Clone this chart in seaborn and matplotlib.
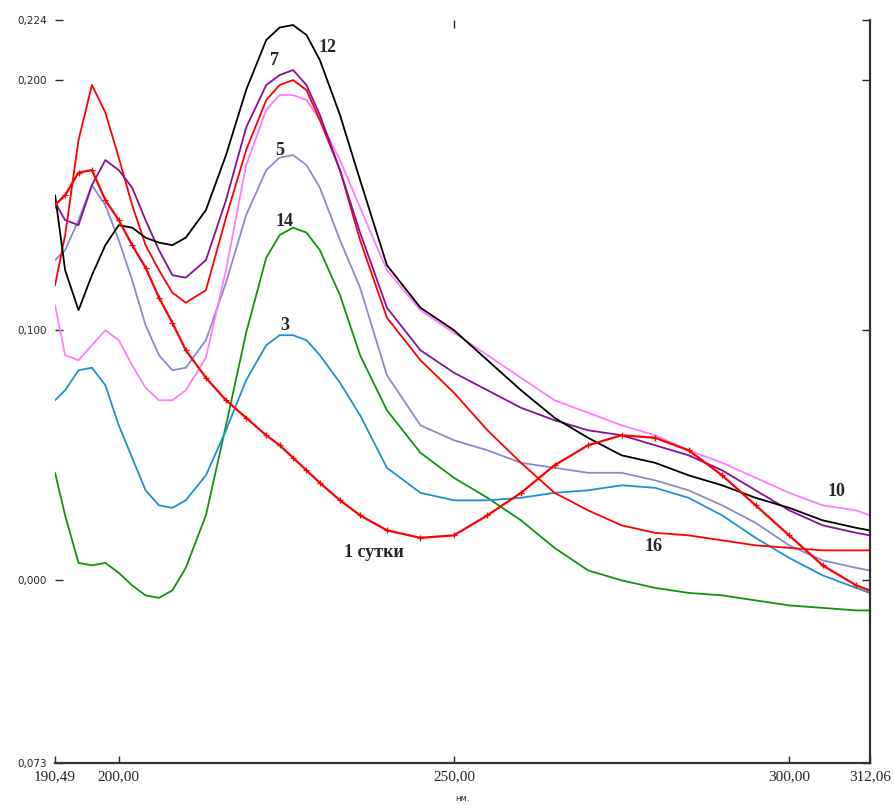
import numpy as np
import pandas as pd
import seaborn as sns
import matplotlib.pyplot as plt

# wavelength grid, nm
wavelength = [190.5, 192, 194, 196, 198, 200, 202, 204, 206, 208, 210, 213, 216, 219, 222, 224,
              226, 228, 230, 233, 236, 240, 245, 250, 255, 260, 265, 270, 275, 280, 285, 290,
              295, 300, 305, 310, 312]

# absorbance
abs_12 = [0.154, 0.124, 0.108, 0.122, 0.134, 0.142, 0.141, 0.137, 0.135, 0.134, 0.137, 0.148, 0.170,
          0.196, 0.216, 0.221, 0.222, 0.218, 0.208, 0.186, 0.160, 0.126, 0.109, 0.100, 0.088, 0.076,
          0.065, 0.057, 0.050, 0.047, 0.042, 0.038, 0.033, 0.029, 0.024, 0.021, 0.020]
abs_7 = [0.151, 0.144, 0.142, 0.158, 0.168, 0.164, 0.157, 0.144, 0.132, 0.122, 0.121, 0.128, 0.152,
         0.181, 0.198, 0.202, 0.204, 0.198, 0.186, 0.164, 0.139, 0.109, 0.092, 0.083, 0.076, 0.069,
         0.064, 0.060, 0.058, 0.054, 0.050, 0.044, 0.036, 0.028, 0.022, 0.019, 0.018]
abs_16 = [0.118, 0.138, 0.176, 0.198, 0.187, 0.169, 0.150, 0.134, 0.124, 0.115, 0.111, 0.116, 0.145,
          0.172, 0.192, 0.198, 0.200, 0.196, 0.184, 0.164, 0.136, 0.105, 0.088, 0.075, 0.060, 0.047,
          0.035, 0.028, 0.022, 0.019, 0.018, 0.016, 0.014, 0.013, 0.012, 0.012, 0.012]
abs_10 = [0.110, 0.090, 0.088, 0.094, 0.100, 0.096, 0.086, 0.077, 0.072, 0.072, 0.076, 0.089, 0.124,
          0.166, 0.188, 0.194, 0.194, 0.192, 0.184, 0.168, 0.149, 0.124, 0.108, 0.099, 0.090, 0.081,
          0.072, 0.067, 0.062, 0.058, 0.052, 0.047, 0.041, 0.035, 0.030, 0.028, 0.026]
abs_5 = [0.128, 0.132, 0.144, 0.158, 0.150, 0.136, 0.120, 0.102, 0.090, 0.084, 0.085, 0.096, 0.119,
         0.146, 0.164, 0.169, 0.170, 0.166, 0.157, 0.136, 0.117, 0.082, 0.062, 0.056, 0.052, 0.047,
         0.045, 0.043, 0.043, 0.040, 0.036, 0.030, 0.023, 0.014, 0.008, 0.005, 0.004]
abs_3 = [0.072, 0.076, 0.084, 0.085, 0.078, 0.062, 0.049, 0.036, 0.030, 0.029, 0.032, 0.042, 0.060,
         0.080, 0.094, 0.098, 0.098, 0.096, 0.090, 0.079, 0.066, 0.045, 0.035, 0.032, 0.032, 0.033,
         0.035, 0.036, 0.038, 0.037, 0.033, 0.026, 0.017, 0.009, 0.002, -0.003, -0.005]
abs_14 = [0.043, 0.026, 0.007, 0.006, 0.007, 0.003, -0.002, -0.006, -0.007, -0.004, 0.005, 0.026, 0.062,
          0.099, 0.129, 0.138, 0.141, 0.139, 0.132, 0.114, 0.090, 0.068, 0.051, 0.041, 0.033, 0.024,
          0.013, 0.004, 0.000, -0.003, -0.005, -0.006, -0.008, -0.010, -0.011, -0.012, -0.012]
abs_1 = [0.150, 0.154, 0.163, 0.164, 0.152, 0.144, 0.134, 0.125, 0.113, 0.103, 0.092, 0.081, 0.072,
         0.065, 0.058, 0.054, 0.049, 0.044, 0.039, 0.032, 0.026, 0.020, 0.017, 0.018, 0.026, 0.035,
         0.046, 0.054, 0.058, 0.057, 0.052, 0.042, 0.030, 0.018, 0.006, -0.002, -0.004]

x_ticks = [190.49, 200.0, 250.0, 300.0, 312.06]
x_tick_labels = ['190,49', '200,00', '250,00', '300,00', '312,06']
y_ticks = [-0.073, 0.0, 0.100, 0.200, 0.224]
y_tick_labels = ['0,073', '0,000', '0,100', '0,200', '0,224']

sns.set_style('white')

fig = plt.figure(figsize=(8.94, 8.09), dpi=100)
ax = fig.add_axes([55 / 894, 1 - 763 / 809, 815 / 894, 743 / 809])

# plain curves
curves = [
    (abs_14, '#129212'),
    (abs_3, '#2090d0'),
    (abs_5, '#8a8ad0'),
    (abs_10, '#ff7cff'),
    (abs_16, '#ff0000'),
    (abs_7, '#88109a'),
    (abs_12, '#000000'),
]
for vals, col in curves:
    sns.lineplot(x=wavelength, y=vals, color=col, lw=1.3, ax=ax, sort=False, estimator=None)

# "1 сутки" curve drawn with small red crosses
sns.lineplot(x=wavelength, y=abs_1, color='#ff0000', lw=1.6, ax=ax, sort=False, estimator=None,
             marker='+', markersize=5, markeredgewidth=0.9, markeredgecolor='#ff0000',
             markerfacecolor='#ff0000')

ax.set_xlim(190.49, 312.06)
ax.set_ylim(-0.073, 0.224)

ax.set_xticks(x_ticks)
ax.set_xticklabels(x_tick_labels, fontfamily='Liberation Serif', fontsize=11)
ax.set_yticks(y_ticks)
ax.set_yticklabels(y_tick_labels, fontsize=7.5)
ax.tick_params(axis='x', direction='in', length=5, width=1, bottom=True, pad=5)
ax.tick_params(axis='y', direction='in', length=6, width=1, left=True, right=True, pad=6)

top = ax.secondary_xaxis('top')
top.set_xticks([250.0])
top.set_xticklabels([])
top.tick_params(direction='in', length=6, width=1)
top.spines['top'].set_visible(False)

for side in ['left', 'top']:
    ax.spines[side].set_visible(False)
for side in ['right', 'bottom']:
    ax.spines[side].set_color('#333333')
    ax.spines[side].set_linewidth(1.6)

ax.set_xlabel('нм.', fontsize=6, labelpad=8)
ax.set_ylabel('')

# curve numbers
lab = dict(fontfamily='Liberation Serif', fontweight='bold', fontsize=13, ha='center', va='center')
ax.text(231.1, 0.213, '12', **lab)
ax.text(223.2, 0.208, '7', **lab)
ax.text(224.0, 0.172, '5', **lab)
ax.text(224.7, 0.1436, '14', **lab)
ax.text(224.7, 0.102, '3', **lab)
ax.text(238.1, 0.011, '1 сутки', **lab)
ax.text(279.8, 0.0136, '16', **lab)
ax.text(307.0, 0.0356, '10', **lab)

fig.savefig('out.png', dpi=100)
